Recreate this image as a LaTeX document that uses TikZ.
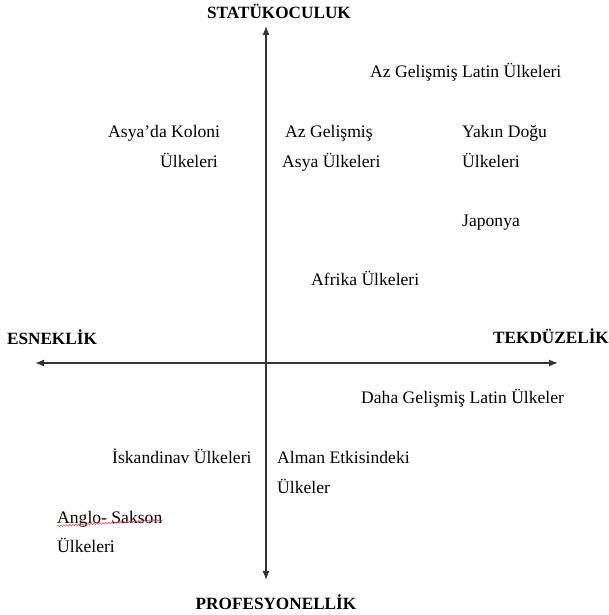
\documentclass[tikz,border=0pt]{standalone}
\usepackage{fontspec}
\setmainfont{Liberation Serif}
\usetikzlibrary{arrows.meta,decorations.pathmorphing}
\begin{document}
\begin{tikzpicture}[x=1pt,y=-1pt,
  lbl/.style={anchor=base west,inner sep=0pt,font=\fontsize{17.6}{20}\selectfont},
  axlbl/.style={anchor=base,inner sep=0pt,font=\fontsize{17.2}{20}\selectfont\bfseries},
  axis/.style={line width=1.3pt,draw=black!80,-{Latex[length=9pt,width=7pt]}}]
\useasboundingbox (0,0) rectangle (608,615);
% axes
\coordinate (top) at (266,26);
\coordinate (bot) at (266,580);
\coordinate (left) at (35,363);
\coordinate (right) at (558,363);
\coordinate (vmid) at (266,362);
\coordinate (hmid) at (265,363);
\draw[axis] (vmid) -- (top);
\draw[axis] (vmid) -- (bot);
\draw[axis] (hmid) -- (left);
\draw[axis] (hmid) -- (right);
% axis labels
\node[axlbl] (stat) at (279,19) {STATÜKOCULUK};
\node[axlbl] (esn) at (52,344) {ESNEKLİK};
\node[axlbl] (tek) at (551,343) {TEKDÜZELİK};
\node[axlbl] (prof) at (276,609) {PROFESYONELLİK};
% labels
\node[lbl] (azlat) at (370,78) {Az Gelişmiş Latin Ülkeleri};
\node[lbl] (asko1) at (108,137) {Asya’da Koloni};
\node[lbl] (asko2) at (160,167) {Ülkeleri};
\node[lbl] (azas1) at (285,137) {Az Gelişmiş};
\node[lbl] (azas2) at (282,167) {Asya Ülkeleri};
\node[lbl] (yak1) at (462,137) {Yakın Doğu};
\node[lbl] (yak2) at (462,167) {Ülkeleri};
\node[lbl] (jap) at (462,226) {Japonya};
\node[lbl] (afr) at (311,285) {Afrika Ülkeleri};
\node[lbl] (daha) at (361,403) {Daha Gelişmiş Latin Ülkeler};
\node[lbl] (isk) at (112,463) {İskandinav Ülkeleri};
\node[lbl] (alm1) at (277,463) {Alman Etkisindeki};
\node[lbl] (alm2) at (277,493) {Ülkeler};
\node[lbl] (ang1) at (57,523) {Anglo- Sakson};
\node[lbl] (ang2) at (57,552) {Ülkeleri};
% spellcheck underline
\draw[red!80,line width=0.5pt,decorate,decoration={snake,amplitude=0.8pt,segment length=3pt}]
  (ang1.base west) ++(0,3) -- ([yshift=3pt]ang1.base east);
\end{tikzpicture}
\end{document}
